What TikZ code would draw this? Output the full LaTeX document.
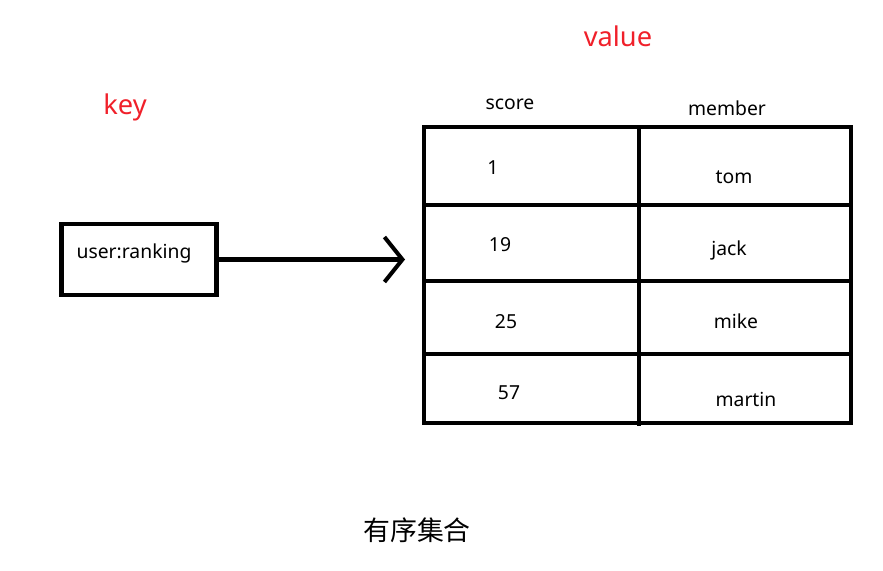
\documentclass[tikz,border=0pt]{standalone}
\usepackage{fontspec}
\setmainfont{Noto Sans}
\newfontfamily\cjk{Noto Sans CJK SC}
\usepackage{tikz}
\usetikzlibrary{arrows.meta, positioning}
\definecolor{keyred}{HTML}{F0202A}
\definecolor{ink}{HTML}{000000}
\tikzstyle{keybox}  = [rectangle, draw=ink, line width=2.3pt, minimum width=3.1cm,
                       minimum height=1.42cm, inner sep=0pt]
\tikzstyle{cell}    = [font=\fontsize{11}{13}\selectfont, inner sep=0pt]
\tikzstyle{title}   = [text=keyred, font=\fontsize{15.5}{18}\selectfont, inner sep=0pt]
\tikzstyle{grid}    = [draw=ink, line width=2.3pt]
\tikzstyle{arrow}   = [-{Straight Barb[length=0.36cm, width=0.9cm, line width=2.3pt]},
                       line width=2.3pt, color=ink, line cap=round]

\begin{document}
\begin{tikzpicture}[x=0.02cm, y=-0.02cm]
  \useasboundingbox (0,0) rectangle (883,571);

  %% Key side
  \node[title] (keylbl) at (125,107) {key};
  \node[keybox] (key) at (139,259.5) {};
  \node[cell] (keytxt) at (134,253) {user:ranking};

  %% Value side
  \node[title] (vallbl) at (618,36) {value};
  \node[cell] (score) at (510,104) {score};
  \node[cell] (member) at (727,108) {member};

  %% Table frame
  \node[grid, rectangle, minimum width=8.54cm, minimum height=5.92cm,
        inner sep=0pt] (tbl) at (637.5,275) {};
  \draw[grid] (639,127) -- (639,426);
  \foreach \y in {205,281,354}
    \draw[grid] (tbl.west |- 0,\y) -- (tbl.east |- 0,\y);

  %% Scores
  \node[cell] (s1) at (493,168) {1};
  \node[cell] (s2) at (500,245) {19};
  \node[cell] (s3) at (506,322) {25};
  \node[cell] (s4) at (509,393) {57};

  %% Members
  \node[cell] (m1) at (734,177) {tom};
  \node[cell] (m2) at (729,250) {jack};
  \node[cell] (m3) at (736,321) {mike};
  \node[cell] (m4) at (746,399) {martin};

  %% Caption
  \node[font=\cjk\fontsize{15.3}{18}\selectfont] (cap) at (417,530) {有序集合};

  %% Arrow
  \draw[arrow, shorten >=0.34cm] (key.east) -- (tbl.west |- key.east);

\end{tikzpicture}
\end{document}
